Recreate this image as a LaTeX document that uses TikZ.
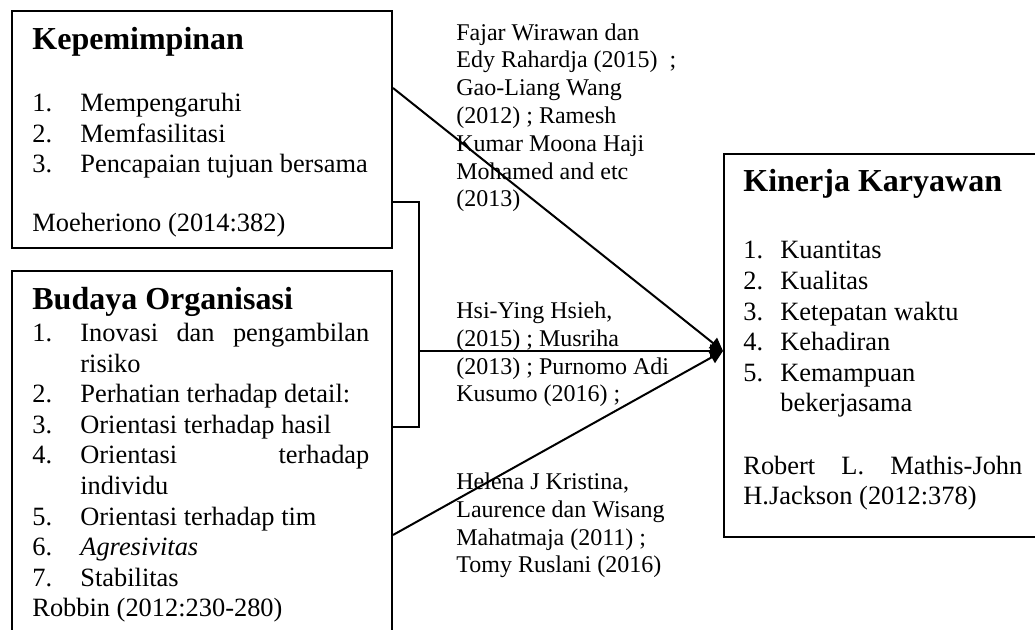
\documentclass[tikz,border=0pt]{standalone}
\usepackage{fontspec}
\setmainfont{Liberation Serif}
\usetikzlibrary{positioning,arrows.meta,calc}

\newcommand{\itm}[2]{\makebox[24pt][l]{#1}#2}
\newcommand{\itmk}[2]{\makebox[18.5pt][l]{#1}#2}

\begin{document}
\begin{tikzpicture}[x=0.5pt,y=-0.5pt,
    varbox/.style={rectangle, draw=black, line width=1pt, anchor=north west, inner sep=0pt},
    head/.style={anchor=base west, inner sep=0pt, font=\fontsize{16}{15.3}\selectfont\bfseries},
    boxtext/.style={anchor=base west, inner sep=0pt, align=left, font=\fontsize{13.2}{15.3}\selectfont},
    reftext/.style={anchor=base west, inner sep=0pt, align=left, font=\fontsize{12}{13.9}\selectfont},
    line/.style={line width=1pt},
    arrow/.style={-{Triangle[length=6.5pt,width=6.5pt]}, line width=1pt}
]
\useasboundingbox (0,0) rectangle (1035,630);
\clip (0,0) rectangle (1035,630);

% Kepemimpinan (text nodes sit on the baseline of their last line)
\node[varbox, minimum width=190pt, minimum height=118.5pt] (kep) at (11,10) {};
\node[head] (kephead) at (32,50) {Kepemimpinan};
\node[boxtext] (keplist) at (32,173) {\itm{1.}{Mempengaruhi}\\ \itm{2.}{Memfasilitasi}\\ \itm{3.}{Pencapaian tujuan bersama}};
\node[boxtext] (kepsrc) at (32,232) {Moeheriono (2014:382)};

% Budaya Organisasi
\node[varbox, minimum width=190pt, minimum height=230pt] (bud) at (11,270) {};
\node[head] (budhead) at (32,310) {Budaya Organisasi};
\node[boxtext] (budlist) at (32,617) {\itm{1.}{\makebox[144.5pt][s]{Inovasi dan pengambilan}}\\
    \itm{}{risiko}\\
    \itm{2.}{Perhatian terhadap detail:}\\
    \itm{3.}{Orientasi terhadap hasil}\\
    \itm{4.}{\makebox[144.5pt][s]{Orientasi terhadap}}\\
    \itm{}{individu}\\
    \itm{5.}{Orientasi terhadap tim}\\
    \itm{6.}{\textit{Agresivitas}}\\
    \itm{7.}{Stabilitas}\\
    Robbin (2012:230-280)};

% Kinerja Karyawan
\node[varbox, minimum width=160pt, minimum height=191.5pt] (kin) at (723,153) {};
\node[head] (kinhead) at (743,192) {Kinerja Karyawan};
\node[boxtext] (kinlist) at (743,412) {\itmk{1.}{Kuantitas}\\ \itmk{2.}{Kualitas}\\ \itmk{3.}{Ketepatan waktu}\\
    \itmk{4.}{Kehadiran}\\ \itmk{5.}{Kemampuan}\\ \itmk{}{bekerjasama}};
\node[boxtext] (kinsrc) at (743,505) {\makebox[139.5pt][s]{Robert L. Mathis-John}\\ H.Jackson (2012:378)};

% references on the paths
\node[reftext] (ref1) at (456,207) {Fajar Wirawan dan\\ Edy Rahardja (2015)\ \ ;\\ Gao-Liang Wang\\ (2012) ; Ramesh\\
    Kumar Moona Haji\\ Mohamed and etc\\ (2013)};
\node[reftext] (ref2) at (456,402) {Hsi-Ying Hsieh,\\ (2015) ; Musriha\\ (2013) ; Purnomo Adi\\ Kusumo (2016) ;};
\node[reftext] (ref3) at (456,573) {Helena J Kristina,\\ Laurence dan Wisang\\ Mahatmaja (2011) ;\\ Tomy Ruslani (2016)};

% connectors
\coordinate (kinin) at ([yshift=-2.75pt]kin.west);
\coordinate (brtop) at ($(kep.north east)+(0,192)$);
\coordinate (brbot) at ($(bud.north east)+(0,157)$);
\draw[line] (brtop) -- ++(26,0) coordinate (brr) |- (brbot);
\draw[arrow] ($(kep.north east)+(0,78)$) -- (kinin);
\draw[arrow] (brr |- kinin) -- (kinin);
\draw[arrow] ($(bud.north east)+(0,265)$) -- (kinin);

\end{tikzpicture}
\end{document}
